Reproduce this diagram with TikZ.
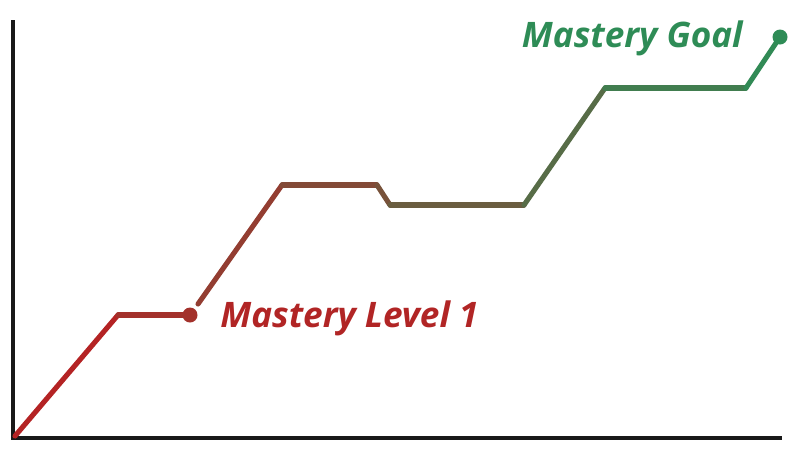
\documentclass[tikz,border=0pt]{standalone}
\usepackage{fontspec}
\setmainfont{Open Sans}
\definecolor{cr}{RGB}{192,26,32}
\definecolor{cg}{RGB}{46,140,86}
\begin{document}
\begin{tikzpicture}[x=0.02cm,y=-0.02cm,
  axis/.style={line width=2.2pt,black!90},
  seg/.style={line width=2.9pt,line cap=round,line join=round},
  dotn/.style={circle,inner sep=0pt,minimum size=0.3cm},
  lbl/.style={font=\fontsize{20}{24}\selectfont\bfseries\itshape,inner sep=0pt}]
\useasboundingbox (0,0) rectangle (800,451);
\coordinate (top) at (13,20);
\coordinate (o) at (13,438);
\coordinate (xr) at (782,438);
\draw[axis] (top) -- (o) -- (xr);
\coordinate (p0) at (15,436);
\coordinate (p1) at (118,315);
\coordinate (p2) at (190,315);
\coordinate (q0) at (198,304);
\coordinate (q1) at (282,185);
\coordinate (q2) at (377,185);
\coordinate (q3) at (390,205);
\coordinate (q4) at (524,205);
\coordinate (q5) at (605,88);
\coordinate (q6) at (746,88);
\coordinate (q7) at (780,37);
\draw[seg,color=cg!8!cr] (p0) -- (p1);
\draw[seg,color=cg!20!cr] (p1) -- (p2);
\draw[seg,color=cg!31!cr] (q0) -- (q1);
\draw[seg,color=cg!42!cr] (q1) -- (q2);
\draw[seg,color=cg!49!cr] (q2) -- (q3);
\draw[seg,color=cg!59!cr] (q3) -- (q4);
\draw[seg,color=cg!72!cr] (q4) -- (q5);
\draw[seg,color=cg!87!cr] (q5) -- (q6);
\draw[seg,color=cg!98!cr] (q6) -- (q7);
\node[dotn,fill=cg!20!cr] (d1) at (p2) {};
\node[dotn,fill=cg] (d2) at (q7) {};
\node[lbl,text=cg!10!cr,anchor=west] (l1) at (220,318) {Mastery Level 1};
\node[lbl,text=cg,anchor=east] (l2) at (743,38) {Mastery Goal};
\end{tikzpicture}
\end{document}
